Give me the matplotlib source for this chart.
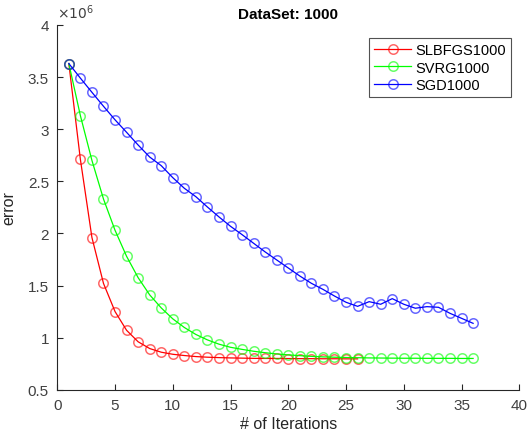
import matplotlib
matplotlib.use("Agg")
import matplotlib.pyplot as plt
from matplotlib.ticker import FuncFormatter

plt.rcParams['font.family'] = ['Liberation Sans', 'DejaVu Sans']

iters_slbfgs = list(range(1, 27))
slbfgs = [3.63, 2.71, 1.96, 1.52, 1.25, 1.07, 0.96, 0.895, 0.86, 0.84, 0.828, 0.818,
          0.812, 0.808, 0.805, 0.803, 0.801, 0.80, 0.80, 0.799, 0.798, 0.798, 0.797,
          0.797, 0.796, 0.796]

iters_svrg = list(range(1, 37))
svrg = [3.63, 3.13, 2.70, 2.33, 2.03, 1.78, 1.575, 1.41, 1.285, 1.18, 1.097, 1.03,
        0.978, 0.937, 0.907, 0.887, 0.869, 0.855, 0.843, 0.834, 0.827, 0.82, 0.815,
        0.812, 0.809, 0.807, 0.805, 0.804, 0.803, 0.802, 0.802, 0.801, 0.801, 0.801,
        0.80, 0.80]

iters_sgd = list(range(1, 37))
sgd = [3.63, 3.49, 3.354, 3.22, 3.09, 2.97, 2.848, 2.733, 2.65, 2.535, 2.433, 2.352,
       2.253, 2.158, 2.068, 1.988, 1.905, 1.822, 1.745, 1.668, 1.591, 1.521, 1.463,
       1.399, 1.339, 1.30, 1.345, 1.32, 1.374, 1.32, 1.282, 1.297, 1.291, 1.233,
       1.185, 1.137]

scale = 1e6
labels = ['SLBFGS1000', 'SVRG1000', 'SGD1000']
yticks = [0.5, 1, 1.5, 2, 2.5, 3, 3.5, 4]
xticks = list(range(0, 41, 5))

fig = plt.figure(figsize=(5.27, 4.39), dpi=100)
ax = fig.add_axes([0.1087, 0.110, 0.8767, 0.8308])

axis_col = '#262626'
tick_col = '#404040'
series = [(iters_slbfgs, slbfgs, (1, 0, 0)), (iters_svrg, svrg, (0, 1, 0)), (iters_sgd, sgd, (0, 0, 1))]
for (xs, ys, c), lab in zip(series, labels):
    ax.plot(xs, [v * scale for v in ys], color=c, lw=0.9, marker='o', markersize=6.8,
            markerfacecolor='none', markeredgecolor=(*c, 0.6), markeredgewidth=1.1,
            label=lab)

ax.set_xlim(0, 40)
ax.set_ylim(0.5e6, 4e6)
ax.set_xticks(xticks)
ax.set_yticks([v * scale for v in yticks])
ax.yaxis.set_major_formatter(FuncFormatter(lambda v, p: '%g' % (v / scale)))
ax.text(0.0, 1.012, r'$\times10^{6}$', transform=ax.transAxes, fontsize=10,
        color=tick_col, ha='left', va='bottom')

for s in ['top', 'right']:
    ax.spines[s].set_visible(False)
for s in ['left', 'bottom']:
    ax.spines[s].set_color(axis_col)
    ax.spines[s].set_linewidth(0.8)
ax.tick_params(direction='in', length=4, width=0.8, color=axis_col, labelcolor=tick_col,
               labelsize=11, pad=6)

ax.set_title('DataSet: 1000', fontsize=11, fontweight='bold', color='black', pad=5)
ax.set_xlabel('# of Iterations', fontsize=11.5, color=axis_col, labelpad=3)
ax.set_ylabel('error', fontsize=11.5, color=axis_col, labelpad=8)

leg = ax.legend(loc='upper right', bbox_to_anchor=(0.982, 0.965), fontsize=10.5, frameon=True,
                fancybox=False, edgecolor=axis_col, handlelength=2.5, borderpad=0.35,
                labelspacing=0.25, handletextpad=0.3, borderaxespad=0)
leg.get_frame().set_linewidth(0.8)

fig.savefig('out.png', dpi=100)
